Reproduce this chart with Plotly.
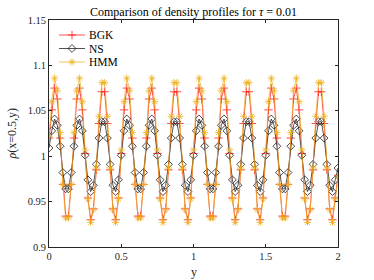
import numpy as np
import plotly.graph_objects as go

# sample positions y in [0, 2]
y_pos = np.linspace(0, 2, 105)

bgk = [1.020, 1.051, 1.075, 1.063, 1.020, 0.969, 0.934, 0.934, 0.969, 1.020, 1.063, 1.075, 1.051, 1.003, 0.954, 0.930, 0.942, 0.985, 1.036, 1.071, 1.071, 1.036, 0.985, 0.942, 0.930, 0.954,
       1.003, 1.051, 1.075, 1.063, 1.020, 0.969, 0.934, 0.934, 0.969, 1.020, 1.063, 1.075, 1.051, 1.003, 0.954, 0.930, 0.942, 0.985, 1.036, 1.071, 1.071, 1.036, 0.985, 0.942, 0.930, 0.954,
       1.003, 1.051, 1.075, 1.063, 1.020, 0.969, 0.934, 0.934, 0.969, 1.020, 1.063, 1.075, 1.051, 1.003, 0.954, 0.930, 0.942, 0.985, 1.036, 1.071, 1.071, 1.036, 0.985, 0.942, 0.930, 0.954,
       1.003, 1.051, 1.075, 1.063, 1.020, 0.969, 0.934, 0.934, 0.969, 1.020, 1.063, 1.075, 1.051, 1.003, 0.954, 0.930, 0.942, 0.985, 1.036, 1.071, 1.071, 1.036, 0.985, 0.942, 0.930, 0.954,
       0.979]

ns = [1.009, 1.028, 1.041, 1.034, 1.011, 0.982, 0.964, 0.964, 0.982, 1.011, 1.034, 1.041, 1.028, 1.001, 0.974, 0.961, 0.968, 0.991, 1.020, 1.038, 1.038, 1.020, 0.991, 0.968, 0.961, 0.974,
      1.001, 1.028, 1.041, 1.034, 1.011, 0.982, 0.964, 0.964, 0.982, 1.011, 1.034, 1.041, 1.028, 1.001, 0.974, 0.961, 0.968, 0.991, 1.020, 1.038, 1.038, 1.020, 0.991, 0.968, 0.961, 0.974,
      1.001, 1.028, 1.041, 1.034, 1.011, 0.982, 0.964, 0.964, 0.982, 1.011, 1.034, 1.041, 1.028, 1.001, 0.974, 0.961, 0.968, 0.991, 1.020, 1.038, 1.038, 1.020, 0.991, 0.968, 0.961, 0.974,
      1.001, 1.028, 1.041, 1.034, 1.011, 0.982, 0.964, 0.964, 0.982, 1.011, 1.034, 1.041, 1.028, 1.001, 0.974, 0.961, 0.968, 0.991, 1.020, 1.038, 1.038, 1.020, 0.991, 0.968, 0.961, 0.974,
      0.987]

hmm = [1.022, 1.060, 1.086, 1.072, 1.026, 0.969, 0.932, 0.932, 0.969, 1.026, 1.072, 1.086, 1.060, 1.007, 0.953, 0.927, 0.941, 0.987, 1.044, 1.081, 1.081, 1.044, 0.987, 0.941, 0.927, 0.953,
       1.007, 1.060, 1.086, 1.072, 1.026, 0.969, 0.932, 0.932, 0.969, 1.026, 1.072, 1.086, 1.060, 1.007, 0.953, 0.927, 0.941, 0.987, 1.044, 1.081, 1.081, 1.044, 0.987, 0.941, 0.927, 0.953,
       1.007, 1.060, 1.086, 1.072, 1.026, 0.969, 0.932, 0.932, 0.969, 1.026, 1.072, 1.086, 1.060, 1.007, 0.953, 0.927, 0.941, 0.987, 1.044, 1.081, 1.081, 1.044, 0.987, 0.941, 0.927, 0.953,
       1.007, 1.060, 1.086, 1.072, 1.026, 0.969, 0.932, 0.932, 0.969, 1.026, 1.072, 1.086, 1.060, 1.007, 0.953, 0.927, 0.941, 0.987, 1.044, 1.081, 1.081, 1.044, 0.987, 0.941, 0.927, 0.953,
       0.977]

series_names = ["BGK", "NS", "HMM"]
x_ticks = [0, 0.5, 1, 1.5, 2]
x_tick_labels = ["0", "0.5", "1", "1.5", "2"]
y_ticks = [0.9, 0.95, 1.0, 1.05, 1.1, 1.15]
y_tick_labels = ["0.9", "0.95", "1", "1.05", "1.1", "1.15"]

FONT = "Liberation Serif"
AX = "#262626"
RED = "#ff1a1a"
BLK = "#1a1a1a"
ORG = "#EDB120"

styles = [
    dict(color=RED, symbol="cross-thin-open", size=6),
    dict(color=BLK, symbol="diamond-open", size=6),
    dict(color=ORG, symbol="asterisk-open", size=6),
]

fig = go.Figure()
for name, vals, st in zip(series_names, [bgk, ns, hmm], styles):
    fig.add_trace(go.Scatter(
        x=y_pos, y=vals, name=name, mode="lines+markers", showlegend=False,
        line=dict(color=st["color"], width=0.75),
        marker=dict(symbol=st["symbol"], size=st["size"], color=st["color"],
                    line=dict(color=st["color"], width=0.8)),
    ))

# Legend (MATLAB-like, compact) drawn on a hidden overlay axis in pixel units
leg_rows = [35, 48.5, 62]
for name, st, yy in zip(series_names, styles, leg_rows):
    fig.add_trace(go.Scatter(
        x=[59, 85], y=[yy, yy], mode="lines", xaxis="x2", yaxis="y2", showlegend=False,
        line=dict(color=st["color"], width=0.75), hoverinfo="skip"))
    fig.add_trace(go.Scatter(
        x=[72], y=[yy], mode="markers", xaxis="x2", yaxis="y2", showlegend=False,
        marker=dict(symbol=st["symbol"], size=st["size"], color=st["color"],
                    line=dict(color=st["color"], width=0.8)), hoverinfo="skip"))
    fig.add_annotation(x=87, y=yy, xref="x2", yref="y2", text=name, showarrow=False,
                       xanchor="left", yanchor="middle",
                       font=dict(family=FONT, size=11.5, color="black"))

fig.update_layout(
    width=374, height=280,
    margin=dict(l=49, r=36, t=20, b=33),
    paper_bgcolor="white", plot_bgcolor="white",
    font=dict(family=FONT, size=10.5, color=AX),
    title=dict(text="Comparison of density profiles for <i>τ</i> = 0.01",
               x=0.5, xanchor="center", xref="paper", y=1 - 12 / 280, yref="container",
               yanchor="middle", pad=dict(t=0, b=0),
               font=dict(family=FONT, size=12, color="black")),
    showlegend=False,
    hovermode=False,
    xaxis=dict(range=[0, 2], tickmode="array", tickvals=x_ticks, ticktext=x_tick_labels,
               ticks="inside", ticklen=3, tickcolor=AX, showline=True, linecolor=AX,
               linewidth=0.6, mirror="ticks", showgrid=False, zeroline=False, automargin=False,
               tickfont=dict(family=FONT, size=10.5, color=AX)),
    yaxis=dict(range=[0.9, 1.15], tickmode="array", tickvals=y_ticks, ticktext=y_tick_labels,
               ticks="inside", ticklen=3, tickcolor=AX, showline=True, linecolor=AX,
               linewidth=0.6, mirror="ticks", showgrid=False, zeroline=False, automargin=False,
               tickfont=dict(family=FONT, size=10.5, color=AX)),
    xaxis2=dict(range=[49, 338], overlaying="x", visible=False, fixedrange=True),
    yaxis2=dict(range=[247, 20], overlaying="y", visible=False, fixedrange=True),
)

fig.add_annotation(text="y", xref="paper", yref="paper", x=0.5, y=0, yshift=-25,
                   showarrow=False, xanchor="center", yanchor="middle",
                   font=dict(family=FONT, size=12, color=AX))
fig.add_annotation(text="<i>ρ</i>(x=0.5,y)", xref="paper", yref="paper", x=0, y=0.5,
                   xshift=-38, showarrow=False, textangle=-90, xanchor="center", yanchor="middle",
                   font=dict(family=FONT, size=12, color=AX))

# remove the browser's default 8px body margin so the figure fills the window exactly
fig.write_html("out.html", config={"displayModeBar": False},
               post_script="document.body.style.margin='0px';")
